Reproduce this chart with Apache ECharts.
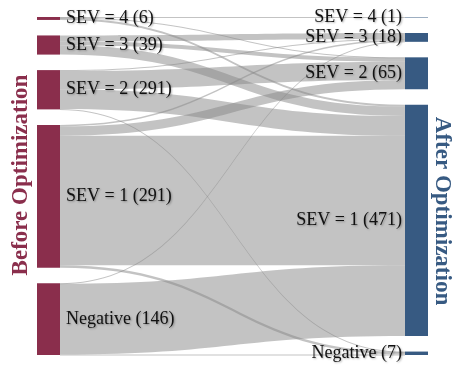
<!DOCTYPE html>
<html>
<head>
<meta charset="utf-8">
<script src="https://cdn.jsdelivr.net/npm/echarts@6/dist/echarts.min.js"></script>
<style>
  html, body { margin: 0; padding: 0; background: #fff; }
  #chart { width: 464px; height: 376px; }
</style>
</head>
<body>
<div id="chart"></div>
<script>
// severity levels, same order on both sides
const levels = ['SEV = 4', 'SEV = 3', 'SEV = 2', 'SEV = 1', 'Negative']
// counts as printed on the labels
const beforeCounts = [6, 39, 291, 291, 146]
const afterCounts = [1, 18, 65, 471, 7]
// flows[before][after]
const flows = [
  [1, 0, 1, 4, 0],
  [0, 12, 8, 19, 0],
  [0, 2, 37, 40, 1],
  [0, 3, 19, 264, 5],
  [0, 1, 0, 144, 1],
]

const beforeColor = '#8a2e4c'
const afterColor = '#375a82'
const labelFont = '"Liberation Serif", "Times New Roman", serif'

const beforeNames = levels.map((l, i) => `${l} (${beforeCounts[i]})`)
const afterNames = levels.map((l, i) => `${l} (${afterCounts[i]})`)

const nodes = [
  ...beforeNames.map((name) => ({
    name,
    itemStyle: { color: beforeColor },
    label: { position: 'right', distance: 6 },
  })),
  ...afterNames.map((name) => ({
    name,
    itemStyle: { color: afterColor },
    label: { position: 'left', distance: 3 },
  })),
]

const links = []
flows.forEach((row, i) => {
  row.forEach((v, j) => {
    if (v > 0) links.push({ source: beforeNames[i], target: afterNames[j], value: v })
  })
})

const chart = echarts.init(document.getElementById('chart'), null, { renderer: 'canvas' })

chart.setOption({
  animation: false,
  backgroundColor: '#fff',
  series: [{
    type: 'sankey',
    left: 37,
    top: 17,
    width: 391,
    height: 338,
    nodeWidth: 23,
    nodeGap: 15.5,
    layoutIterations: 0,
    draggable: false,
    emphasis: { disabled: true },
    itemStyle: { borderWidth: 0 },
    lineStyle: { color: '#888888', opacity: 0.5, curveness: 0.5 },
    label: {
      color: '#111',
      fontFamily: labelFont,
      fontSize: 18,
      textShadowColor: 'rgba(0,0,0,0.3)',
      textShadowBlur: 2,
      textShadowOffsetX: 1,
      textShadowOffsetY: 1,
    },
    data: nodes,
    links: links,
  }],
  graphic: [
    {
      type: 'text',
      x: 21,
      y: 175,
      rotation: Math.PI / 2,
      style: {
        text: 'Before Optimization',
        font: 'bold 23px ' + labelFont,
        fill: beforeColor,
        align: 'center',
        verticalAlign: 'middle',
      },
    },
    {
      type: 'text',
      x: 442,
      y: 211,
      rotation: -Math.PI / 2,
      style: {
        text: 'After Optimization',
        font: 'bold 23px ' + labelFont,
        fill: afterColor,
        align: 'center',
        verticalAlign: 'middle',
      },
    },
  ],
})
</script>
</body>
</html>
